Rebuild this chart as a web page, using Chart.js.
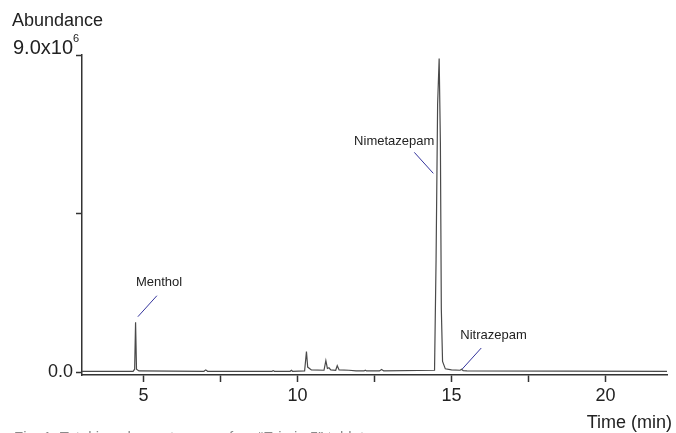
<!DOCTYPE html>
<html>
<head>
<meta charset="utf-8">
<script src="https://cdn.jsdelivr.net/npm/chart.js@4.4.1/dist/chart.umd.min.js"></script>
<style>
  html, body { margin: 0; padding: 0; background: #fff; }
  #wrap { width: 676px; height: 433px; position: relative; }
</style>
</head>
<body>
<div id="wrap"><canvas id="chart"></canvas></div>
<script>
// Retention time (min) and abundance (x10^6)
const times = [
    3.0, 4.66, 4.71, 4.74, 4.77, 4.85, 6.96, 7.02, 7.08,
    9.17, 9.21, 9.25, 9.76, 9.8, 9.84, 10.23, 10.29, 10.33, 10.45,
    10.86, 10.92, 10.97, 11.02, 11.08, 11.24, 11.29, 11.35, 11.67, 11.9,
    12.16, 12.2, 12.24, 12.66, 12.73, 12.8,
    14.45, 14.5, 14.55, 14.6, 14.64, 14.67, 14.71, 14.8, 15.0,
    15.28, 15.33, 15.38, 15.5, 22.0
];
const abundance = [
    0.02, 0.02, 0.08, 1.41, 0.08, 0.03, 0.02, 0.06, 0.02,
    0.02, 0.04, 0.02, 0.02, 0.05, 0.02, 0.03, 0.58, 0.14, 0.06,
    0.05, 0.32, 0.1, 0.12, 0.06, 0.05, 0.18, 0.06, 0.05, 0.03,
    0.03, 0.05, 0.03, 0.03, 0.07, 0.03,
    0.05, 3.2, 7.6, 8.9, 6.5, 1.8, 0.3, 0.09, 0.06,
    0.05, 0.08, 0.04, 0.03, 0.02
];

const xTicks = [5, 7.5, 10, 12.5, 15, 17.5, 20];
const yTicks = [0, 4.5, 9];

// Peak labels and where their leader lines touch the trace
const peakNames = ["Menthol", "Nimetazepam", "Nitrazepam"];
const peakTimes = [4.815, 14.41, 15.35];
const peakLevels = [1.57, 5.64, 0.085];

const FONT = "'Liberation Sans', Arial, sans-serif";

const labelPlugin = {
    id: "labels",
    afterDraw(chart) {
        const ctx = chart.ctx;
        const xs = chart.scales.x;
        const ys = chart.scales.y;
        ctx.save();

        // axis titles
        ctx.fillStyle = "#222";
        ctx.font = "18px " + FONT;
        ctx.textBaseline = "middle";
        ctx.textAlign = "left";
        ctx.fillText("Abundance", 12, 21);
        ctx.textAlign = "right";
        ctx.fillText("Time (min)", 672, 423);

        // top tick label with superscript
        const yTop = ys.getPixelForValue(9);
        ctx.font = "20px " + FONT;
        ctx.textAlign = "right";
        ctx.fillText("9.0x10", 73, yTop - 7);
        ctx.font = "11px " + FONT;
        ctx.textAlign = "left";
        ctx.fillText("6", 73, yTop - 16);

        // peak annotations
        ctx.font = "13px " + FONT;
        ctx.strokeStyle = "#34349c";
        ctx.lineWidth = 1;
        peakNames.forEach((name, i) => {
            const px = xs.getPixelForValue(peakTimes[i]);
            const py = ys.getPixelForValue(peakLevels[i]);
            const dir = name === "Nimetazepam" ? -1 : 1;
            const ex = px + dir * 19;
            const ey = py - 21;
            ctx.beginPath();
            ctx.moveTo(px, py);
            ctx.lineTo(ex, ey);
            ctx.stroke();
            ctx.fillStyle = "#222";
            if (dir < 0) {
                ctx.textAlign = "right";
                ctx.fillText(name, ex + 20, ey - 11);
            } else {
                ctx.textAlign = "left";
                ctx.fillText(name, ex - 21, ey - 13);
            }
        });

        // caption, cut by the bottom edge
        ctx.fillStyle = "#8a8a8a";
        ctx.font = "15px " + FONT;
        ctx.textAlign = "left";
        ctx.textBaseline = "alphabetic";
        ctx.fillText("Fig. 1. Total ion chromatogram of an \u201CErimin 5\u201D tablet.", 14, 442);
        ctx.restore();
    }
};

new Chart(document.getElementById("chart"), {
    type: "scatter",
    data: {
        datasets: [{
            data: times.map((t, i) => ({ x: t, y: abundance[i] })),
            showLine: true,
            borderColor: "#4a4a4a",
            borderWidth: 1.2,
            pointRadius: 0,
            tension: 0,
        }],
    },
    options: {
        responsive: true,
        maintainAspectRatio: false,
        animation: false,
        layout: { padding: { top: 55, right: 9, left: 0, bottom: 0 } },
        plugins: {
            legend: { display: false },
            tooltip: { enabled: false },
        },
        scales: {
            x: {
                type: "linear",
                min: 3,
                max: 22,
                afterBuildTicks: (s) => { s.ticks = xTicks.map((v) => ({ value: v })); },
                afterFit: (s) => { s.height = 58; },
                ticks: {
                    autoSkip: false,
                    maxRotation: 0,
                    padding: 3,
                    color: "#222",
                    font: { family: FONT, size: 18 },
                    callback: (v) => (v % 5 === 0 ? String(v) : ""),
                },
                grid: { drawOnChartArea: false, tickLength: 7, tickColor: "#333", tickWidth: 1.5 },
                border: { color: "#333", width: 1.5 },
            },
            y: {
                min: -0.085,
                max: 9,
                afterBuildTicks: (s) => { s.ticks = yTicks.map((v) => ({ value: v })); },
                afterFit: (s) => { s.width = 82; },
                ticks: {
                    padding: 3,
                    color: "#222",
                    font: { family: FONT, size: 18 },
                    callback: (v) => (v === 0 ? "0.0" : ""),
                },
                grid: { drawOnChartArea: false, tickLength: 6, tickColor: "#333", tickWidth: 1.5 },
                border: { color: "#333", width: 1.5 },
            },
        },
    },
    plugins: [labelPlugin],
});
</script>
</body>
</html>
